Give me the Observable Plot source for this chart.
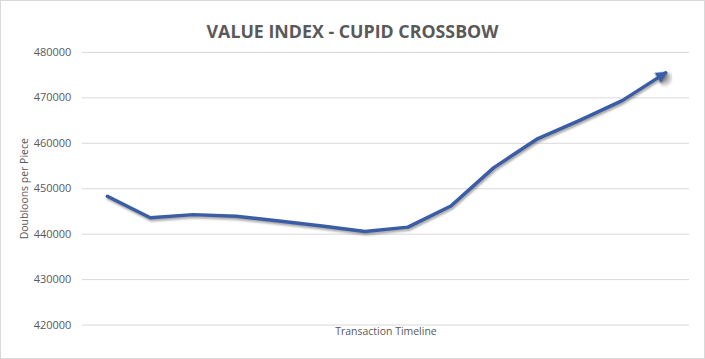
<!DOCTYPE html>
<html>
<head>
<meta charset="utf-8">
<script src="https://cdn.jsdelivr.net/npm/d3@7"></script>
<script src="https://cdn.jsdelivr.net/npm/@observablehq/plot@0.6"></script>
<style>
  html, body { margin: 0; padding: 0; background: #fff; }
  #chart { position: relative; width: 705px; height: 359px; box-sizing: border-box; border: 1px solid #d9d9d9; overflow: hidden; }
  #title { position: absolute; left: 0; top: 18px; width: 100%; text-align: center;
    font-family: "Open Sans", sans-serif; font-weight: 700; font-size: 17.8px; color: #595959; letter-spacing: 0px; }
  #plot { position: absolute; left: -1px; top: -1px; }
  #plot svg g[aria-label="line"] path { filter: drop-shadow(1px 2px 1.2px rgba(0,0,0,0.35)); }
</style>
</head>
<body>
<div id="chart">
  <div id="plot"></div>
  <div id="title">VALUE INDEX - CUPID CROSSBOW</div>
</div>
<script>
const title = "VALUE INDEX - CUPID CROSSBOW";
const xLabel = "Transaction Timeline";
const yLabel = "Doubloons per Piece";
const periods = [1, 2, 3, 4, 5, 6, 7, 8, 9, 10, 11, 12, 13, 14];
const values = [448350, 443600, 444300, 443950, 442900, 441800, 440600, 441550, 446200, 454650, 460900, 465050, 469450, 475500];
const yTicks = [420000, 430000, 440000, 450000, 460000, 470000, 480000];

const data = periods.map((p, i) => ({period: p, value: values[i]}));
const lineColor = "#3a5da5";

const chart = Plot.plot({
  width: 705,
  height: 359,
  marginTop: 52,
  marginBottom: 34,
  marginLeft: 82,
  marginRight: 15,
  style: {fontFamily: "Open Sans, sans-serif", fontSize: "11px", color: "#595959", background: "transparent"},
  x: {type: "point", domain: periods, padding: 0.5, axis: null},
  y: {domain: [420000, 480000], axis: null},
  marks: [
    Plot.gridY(yTicks, {stroke: "#d9d9d9", strokeOpacity: 1, strokeWidth: 1}),
    Plot.axisY(yTicks, {tickSize: 0, tickPadding: 11, tickFormat: d3.format("d"), label: null, fill: "#595959", fontSize: 11}),
    Plot.line(data, {x: "period", y: "value", stroke: lineColor, strokeWidth: 3.5, markerEnd: "arrow"}),
    Plot.text([yLabel], {frameAnchor: "left", textAnchor: "middle", dx: -58, rotate: -90, fill: "#595959", fontSize: 10.5}),
    Plot.text([xLabel], {frameAnchor: "bottom", textAnchor: "middle", dy: 10, fill: "#595959", fontSize: 10.5})
  ]
});

// Make the arrow head a filled triangle like the reference
chart.querySelectorAll("marker").forEach(m => {
  m.setAttribute("fill", lineColor);
  m.setAttribute("stroke", "none");
  const p = m.querySelector("path");
  if (p) p.setAttribute("d", "M-4,-2.6L1,0L-4,2.6Z");
});

document.getElementById("plot").appendChild(chart);
</script>
</body>
</html>
